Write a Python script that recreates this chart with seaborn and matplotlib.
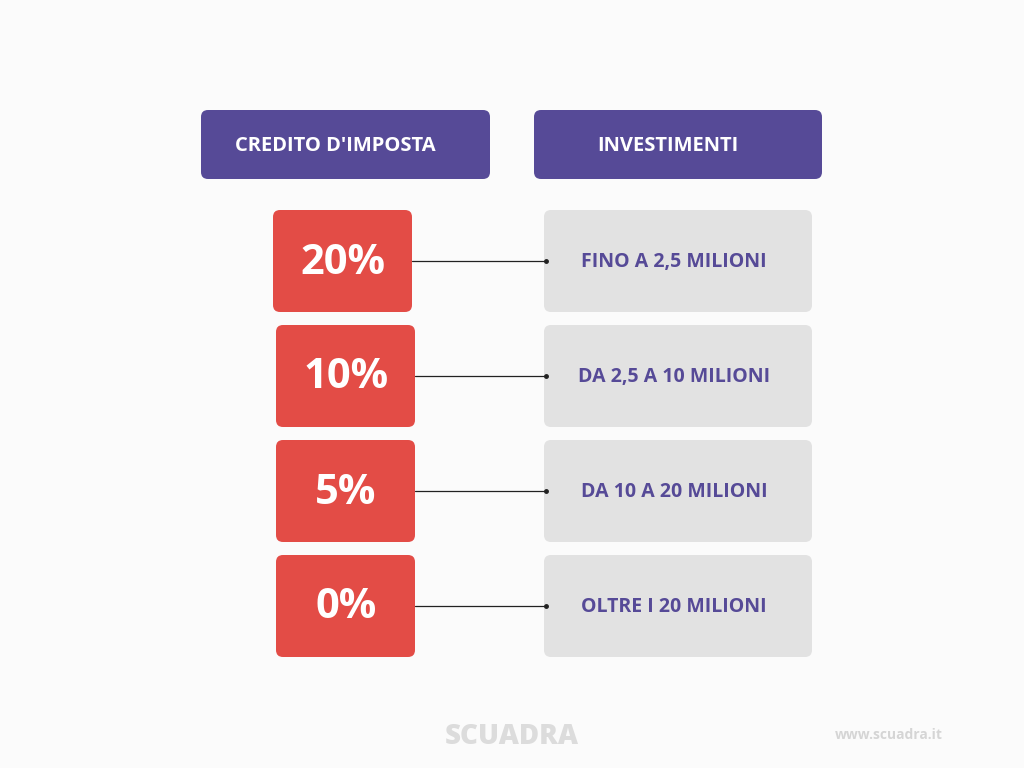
import matplotlib
matplotlib.use("Agg")
import matplotlib.pyplot as plt
from matplotlib.patches import FancyBboxPatch
import seaborn as sns

headers = ["CREDITO D'IMPOSTA", "INVESTIMENTI"]
credits = ["20%", "10%", "5%", "0%"]
ranges = ["FINO A 2,5 MILIONI", "DA 2,5 A 10 MILIONI", "DA 10 A 20 MILIONI", "OLTRE I 20 MILIONI"]

sns.set_theme(style="white", font="Open Sans")
fig = plt.figure(figsize=(10.24, 7.68), dpi=100)
fig.patch.set_facecolor("#fbfbfb")
ax = fig.add_axes([0, 0, 1, 1])
ax.set_xlim(0, 1024); ax.set_ylim(768, 0); ax.axis("off")

PURPLE = "#564a97"; RED = "#e34c46"; GREY = "#e2e2e2"

def box(x0, y0, x1, y1, c, r=7):
    ax.add_patch(FancyBboxPatch((x0, y0), x1 - x0, y1 - y0,
                 boxstyle=f"round,pad=0,rounding_size={r}", fc=c, ec="none"))

# headers
box(201, 110, 490, 179, PURPLE)
box(534, 110, 822, 179, PURPLE)
ax.text(335, 146, headers[0], color="white", fontsize=14.5, fontweight="bold", ha="center", va="center")
ax.text(668, 146, headers[1], color="white", fontsize=14.5, fontweight="bold", ha="center", va="center")

tops = [210, 325, 440, 555]
for i, (c, r) in enumerate(zip(credits, ranges)):
    t = tops[i]; cy = t + 51
    rx0 = 273 if i == 0 else 276
    box(rx0, t, rx0 + 139, t + 102, RED)
    box(544, t, 812, t + 102, GREY)
    ax.plot([rx0 + 139, 546], [cy, cy], color="#222222", lw=0.9)
    ax.plot([546], [cy], "o", color="#222222", ms=2.5)
    ax.text(rx0 + 70, cy + 2, c, color="white", fontsize=30, fontweight="bold", ha="center", va="center")
    ax.text(674, cy + 1, r, color=PURPLE, fontsize=14, fontweight="bold", ha="center", va="center")

ax.text(512, 736, "SCUADRA", color="#dcdcdc", fontsize=20, fontweight="heavy", ha="center", va="center")
ax.text(889, 735, "www.scuadra.it", color="#d5d5d5", fontsize=10, fontweight="bold", ha="center", va="center")

fig.savefig("out.png", dpi=100, facecolor=fig.get_facecolor())
